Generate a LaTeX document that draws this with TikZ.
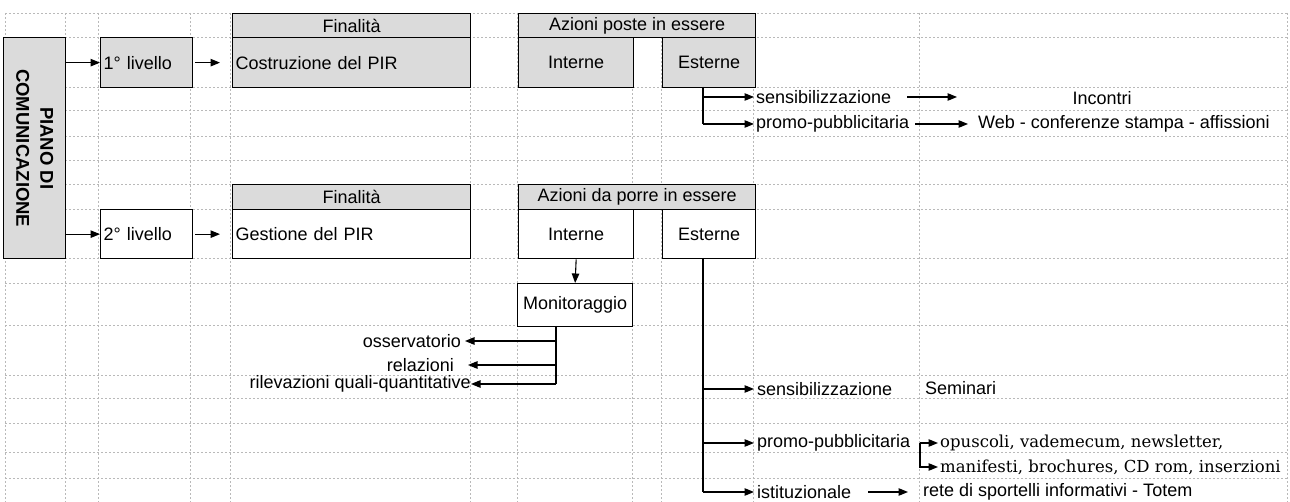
\documentclass[tikz,border=0pt]{standalone}
\usepackage{fontspec}
\setmainfont{Liberation Sans}
\newfontfamily\serifb{DejaVu Serif}
\usetikzlibrary{arrows.meta}
\begin{document}
\begin{tikzpicture}[x=1pt,y=-1pt,
  grid/.style={gray!55, line width=0.35pt, dash pattern=on 2pt off 2pt},
  box/.style={draw, line width=1.3pt, inner sep=0pt, anchor=north west, font=\fontsize{18}{21}\selectfont},
  shaded/.style={box, fill=gray!28},
  plain/.style={box, fill=white},
  lbl/.style={inner sep=0pt, font=\fontsize{18}{21}\selectfont},
  serlbl/.style={inner sep=0pt, font=\serifb\fontsize{16.5}{20}\selectfont},
  arr/.style={line width=1.1pt, -{Triangle[length=9.5pt,width=7.5pt]}},
  ln/.style={line width=1.1pt}
]
\useasboundingbox (0,0) rectangle (1290,502);
% spreadsheet grid
\foreach \y in {13,37,87,110,136,160,184,209,258,283,325,375,398,423,452,478}
  \draw[grid] (5,\y) -- (1287,\y);
\foreach \x in {5,65,98,190,230,470,517,632,661,753,919,1287}
  \draw[grid] (\x,13) -- (\x,502);

% left box
\node[shaded, minimum width=62pt, minimum height=221pt] (piano) at (3,37) {};
\node[rotate=-90, inner sep=0pt, align=center, font=\bfseries\fontsize{18.5}{24}\selectfont] (pianotxt) at (piano.center) {PIANO DI\\COMUNICAZIONE};

% level 1
\node[shaded, minimum height=50pt, text width=86pt, inner xsep=3pt, align=left] (liv1) at (100,37) {1° livello};
\node[shaded, minimum width=238pt, minimum height=24pt] (fin1) at (232,13) {Finalità};
\node[shaded, minimum height=50pt, text width=232pt, inner xsep=3pt, align=left] (costr) at (232,37) {Costruzione del PIR};
\node[shaded, minimum width=237pt, minimum height=24pt] (az1) at (518,13) {Azioni poste in essere};
\node[shaded, minimum width=115pt, minimum height=50pt] (int1) at (518,37) {Interne};
\node[shaded, minimum width=93pt, minimum height=50pt] (est1) at (662,37) {Esterne};

% level 2
\node[plain, minimum height=49pt, text width=86pt, inner xsep=3pt, align=left] (liv2) at (100,209) {2° livello};
\node[shaded, minimum width=238pt, minimum height=25pt] (fin2) at (232,184) {Finalità};
\node[plain, minimum height=49pt, text width=232pt, inner xsep=3pt, align=left] (gest) at (232,209) {Gestione del PIR};
\node[shaded, minimum width=237pt, minimum height=25pt] (az2) at (518,184) {Azioni da porre in essere};
\node[plain, minimum width=115pt, minimum height=49pt] (int2) at (518,209) {Interne};
\node[plain, minimum width=93pt, minimum height=49pt] (est2) at (662,209) {Esterne};
\node[plain, minimum width=115pt, minimum height=43pt] (mon) at (517,283) {Monitoraggio};

% main arrows
\draw[arr] (piano.east |- liv1.west) -- (liv1.west);
\draw[arr] (piano.east |- liv2.west) -- (liv2.west);
\draw[arr, shorten <=2pt, shorten >=12pt] (liv1.east) -- (costr.west);
\draw[arr, shorten <=2pt, shorten >=12pt] (liv2.east) -- (gest.west);

% level 1 external actions
\coordinate (b1) at (703,87);
\node[lbl, anchor=west] (sens1) at (756,97) {sensibilizzazione};
\node[lbl, anchor=west] (prom1) at (756,124) {promo-pubblicitaria};
\draw[ln] (b1) -- (b1 |- prom1.west);
\draw[arr, shorten >=2pt] (b1 |- sens1.west) -- (sens1.west);
\draw[arr, shorten >=2pt] (b1 |- prom1.west) -- (prom1.west);
\node[lbl] (incontri) at (1102,98) {Incontri};
\node[lbl, anchor=west] (web) at (978,124) {Web - conferenze stampa - affissioni};
\coordinate (s1a) at (907,97);
\coordinate (s1b) at (957,97);
\draw[arr] (s1a) -- (s1b);
\coordinate (p1a) at (915,124);
\draw[arr, shorten >=10pt] (p1a) -- (web.west);

% monitoring
\draw[arr] (int2.south) -- (mon.north);
\coordinate (m0) at (556,326);
\node[lbl, anchor=east] (oss) at (461,341) {osservatorio};
\node[lbl, anchor=east] (rel) at (454,365) {relazioni};
\node[lbl, anchor=east] (ril) at (471,384) {rilevazioni quali-quantitative};
\draw[ln] (m0) -- (m0 |- ril.east);
\draw[arr, shorten >=4pt] (m0 |- oss.east) -- (oss.east);
\draw[arr, shorten >=14pt] (m0 |- rel.east) -- (rel.east);
\draw[arr, shorten >=0pt] (m0 |- ril.east) -- (ril.east);

% level 2 external actions
\coordinate (e0) at (703,258);
\node[lbl, anchor=west] (sens2) at (757,389) {sensibilizzazione};
\node[lbl, anchor=west] (prom2) at (757,443) {promo-pubblicitaria};
\node[lbl, anchor=west] (ist) at (757,492) {istituzionale};
\draw[ln] (e0) -- (e0 |- ist.west);
\draw[arr, shorten >=3pt] (e0 |- sens2.west) -- (sens2.west);
\draw[arr, shorten >=3pt] (e0 |- prom2.west) -- (prom2.west);
\draw[arr, shorten >=3pt] (e0 |- ist.west) -- (ist.west);
\node[lbl, anchor=west] (sem) at (925,388) {Seminari};

\coordinate (br) at (920,443);
\node[serlbl, anchor=west] (opus) at (940,443) {opuscoli, vademecum, newsletter,};
\node[serlbl, anchor=west] (manif) at (940,467) {manifesti, brochures, CD rom, inserzioni};
\draw[arr, shorten >=2pt] (br) -- (opus.west);
\draw[arr, shorten >=2pt] (br) |- (manif.west);

\coordinate (ia) at (868,492);
\node[lbl, anchor=west] (rete) at (923,492) {rete di sportelli informativi - Totem};
\draw[arr, shorten >=15pt] (ia) -- (rete.west);
\end{tikzpicture}
\end{document}
